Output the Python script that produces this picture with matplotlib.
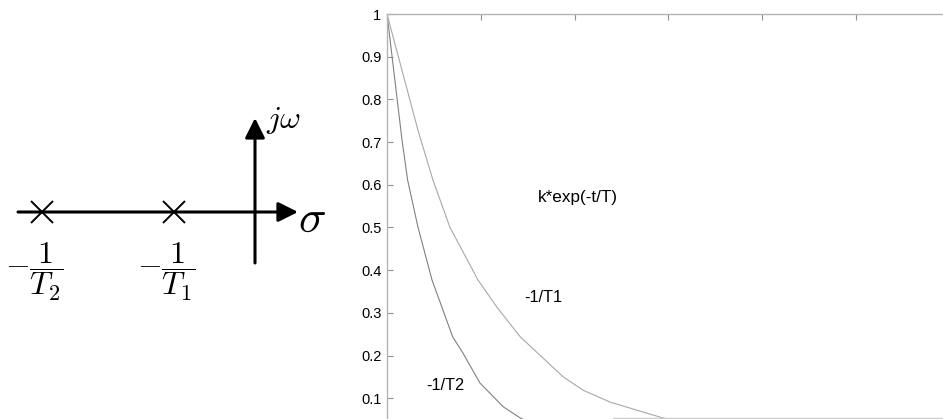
import matplotlib
matplotlib.use("Agg")
import matplotlib.pyplot as plt
from matplotlib.lines import Line2D

# ---- data ----
# pole-zero diagram (schematic s-plane units)
pole_sigma = [-2.63, -1.0]
pole_labels = [r'$-\dfrac{1}{T_2}$', r'$-\dfrac{1}{T_1}$']

# step-response style decays
t_T1 = [0.0, 0.33, 0.49, 0.67, 0.97, 1.17, 1.42, 1.88, 2.09, 2.38, 2.94, 3.3]
v_T1 = [1.0, 0.728, 0.611, 0.501, 0.377, 0.314, 0.244, 0.150, 0.119, 0.091, 0.054, 0.040]
t_T2 = [0.0, 0.16, 0.22, 0.33, 0.48, 0.70, 0.81, 0.99, 1.24, 1.42, 1.6]
v_T2 = [1.0, 0.705, 0.611, 0.501, 0.377, 0.244, 0.206, 0.136, 0.080, 0.054, 0.035]

y_ticks = [0.1, 0.2, 0.3, 0.4, 0.5, 0.6, 0.7, 0.8, 0.9, 1.0]
y_tick_labels = ['0.1', '0.2', '0.3', '0.4', '0.5', '0.6', '0.7', '0.8', '0.9', '1']
x_ticks = [0, 1, 2, 3, 4, 5, 6]

W, H = 943, 419
fig = plt.figure(figsize=(W / 100, H / 100), dpi=100)
plt.rcParams['mathtext.fontset'] = 'cm'

# ---- left: s-plane sketch ----
scale = 81.0
ox, oy = 255.0, 212.0
axs = fig.add_axes([0, 0, 340 / W, 1])
axs.set_xlim(-ox / scale, (340 - ox) / scale)
axs.set_ylim(-(H - oy) / scale, oy / scale)
axs.axis('off')

arrow = dict(arrowstyle='-|>,head_length=0.6,head_width=0.3', lw=2.2,
             color='black', mutation_scale=20, shrinkA=0, shrinkB=0)
axs.annotate('', xy=((298 - ox) / scale, 0), xytext=((18 - ox) / scale, 0),
             arrowprops=arrow)
axs.annotate('', xy=(0, (oy - 118) / scale), xytext=(0, (oy - 263) / scale),
             arrowprops=arrow)
axs.plot(pole_sigma, [0] * len(pole_sigma), linestyle='none', marker='x',
         markersize=16, markeredgewidth=1.4, color='black')
for s, lab in zip(pole_sigma, pole_labels):
    axs.text(s - 8 / scale, -(272 - oy) / scale, lab, fontsize=23,
             ha='center', va='center')
axs.text((266 - ox) / scale, (oy - 121) / scale, r'$j\omega$', fontsize=23,
         ha='left', va='center')
axs.text((298 - ox) / scale, (oy - 219) / scale, r'$\sigma$', fontsize=33,
         ha='left', va='center')

# ---- right: decay curves ----
x0, xu = 387.0, 93.8
y_top, yu = 14.0, 427.0
ax = fig.add_axes([x0 / W, (H - y_top - yu) / H, 6 * xu / W, yu / H])
ax.set_xlim(0, 6)
ax.set_ylim(0, 1)
ax.plot(t_T2, v_T2, color='#808080', lw=0.8)
ax.plot(t_T1, v_T1, color='#a8a8a8', lw=0.8)

for sp in ax.spines.values():
    sp.set_color('#b4b4b4')
    sp.set_linewidth(1.0)
ax.set_yticks(y_ticks)
ax.set_yticklabels(y_tick_labels, fontsize=10.5, family='Liberation Sans')
ax.set_xticks(x_ticks)
ax.set_xticklabels([])
ax.tick_params(axis='both', direction='in', length=4, color='#909090',
               top=True, right=True, pad=4)

ax.text(2.03, 0.571, 'k*exp(-t/T)', fontsize=12.3, family='Liberation Sans',
        ha='center', va='center')
ax.text(1.67, 0.337, '-1/T1', fontsize=11.8, family='Liberation Sans',
        ha='center', va='center')
ax.text(0.62, 0.131, '-1/T2', fontsize=11.8, family='Liberation Sans',
        ha='center', va='center')

# faint line along the bottom edge of the reference crop
fig.add_artist(Line2D([613 / W, 1.0], [(H - 418) / H, (H - 418) / H],
                      color='#cccccc', lw=1.0))

fig.savefig('out.png', dpi=100)
